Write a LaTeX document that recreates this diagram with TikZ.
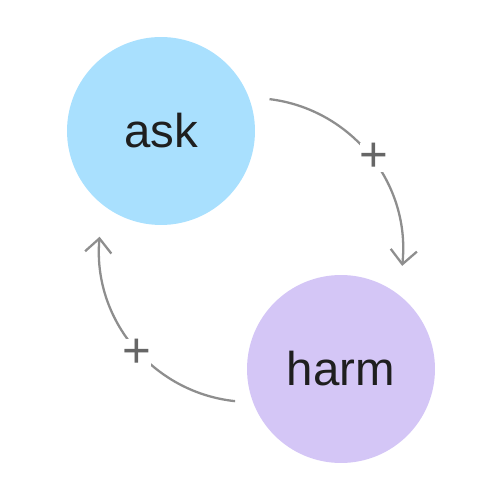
\documentclass[tikz,border=0pt]{standalone}
\usepackage{fontspec}
\setsansfont{Liberation Sans}
\usetikzlibrary{arrows.meta}

\definecolor{askblue}{HTML}{A9E0FE}
\definecolor{harmlilac}{HTML}{D4C6F6}
\definecolor{loopgray}{HTML}{8E8E8E}
\definecolor{signgray}{HTML}{666666}

\tikzset{
  var/.style={circle, inner sep=0pt, minimum size=3.76cm, font=\sffamily\fontsize{27}{31}\selectfont, text=black!88},
  link/.style={draw=loopgray, line width=1.3pt, -{Straight Barb[width=15pt, length=8pt, line width=1.3pt]}},
  sign/.style={fill=white, inner sep=0pt, text=signgray, font=\sffamily\fontsize{28}{30}\selectfont}
}

\begin{document}
\begin{tikzpicture}[x=0.02cm, y=0.02cm]
  \useasboundingbox (0,0) rectangle (500,500);

  % centre of the loop
  \coordinate (hub) at (251,250);

  % variables
  \node[var, fill=askblue] (ask) at (161,369) {ask};
  \node[var, fill=harmlilac] (harm) at (341,131) {harm};

  % ask -> harm
  \draw[link] ([shift={(83:152)}]hub) arc[start angle=83, end angle=-6, radius=152];
  \node[sign] (plusA) at ([shift={(37:154)}]hub) {+};

  % harm -> ask
  \draw[link] ([shift={(264:152)}]hub) arc[start angle=264, end angle=175, radius=152];
  \node[sign] (plusB) at ([shift={(222:154)}]hub) {+};
\end{tikzpicture}
\end{document}
